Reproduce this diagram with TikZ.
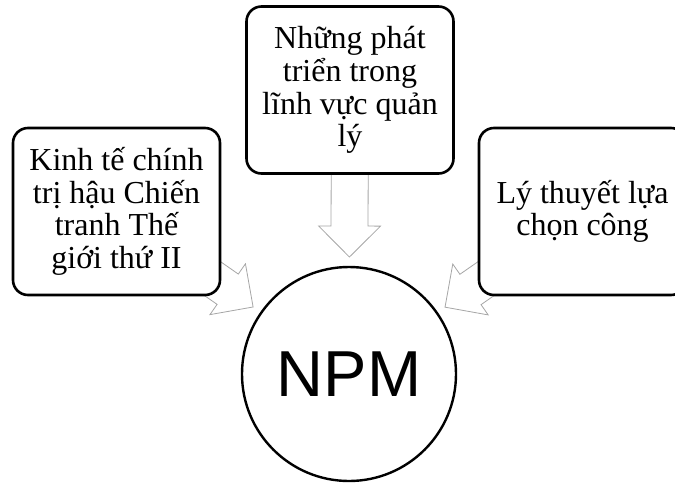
\documentclass[tikz,border=0pt]{standalone}
\usepackage{fontspec}
\setmainfont{Liberation Serif}
\newfontfamily\npmfont{Liberation Sans}
\usepackage{tikz}
\usetikzlibrary{calc,backgrounds}
\definecolor{arrowgray}{HTML}{A6A6A6}

% block arrow from the centre of #1 towards the circle #2
\newcommand{\radarrow}[2]{%
  \coordinate (tip) at ($(#2.center)!117pt!(#1.center)$);
  \coordinate (neck) at ($(tip)!31pt!(#1.center)$);
  \draw[blockarr] ($(#1.center)!18.5pt!90:(tip)$) -- ($(neck)!18.5pt!90:(tip)$)
    -- ($(neck)!31pt!90:(tip)$) -- (tip) -- ($(neck)!31pt!-90:(tip)$)
    -- ($(neck)!18.5pt!-90:(tip)$) -- ($(#1.center)!18.5pt!-90:(tip)$) -- cycle;
}

\begin{document}
\begin{tikzpicture}[
  x=1pt,y=-1pt,
  cause/.style={draw=black,line width=2.6pt,fill=white,rounded corners=15pt,minimum width=207pt,minimum height=167pt,inner sep=0pt,align=center,font=\fontsize{32pt}{32.7pt}\selectfont},
  core/.style={draw=black,line width=2.4pt,fill=white,circle,minimum size=214pt,inner sep=0pt,font=\npmfont\fontsize{65pt}{70pt}\selectfont},
  blockarr/.style={draw=arrowgray,line width=0.8pt,fill=white,line join=miter}
]
  \useasboundingbox (0,0) rectangle (675,483);
  \node[cause] (mgmt) at (350,90) {Những phát\\triển trong\\lĩnh vực quản\\lý};
  \node[cause] (postwar) at (116.5,211.5) {Kinh tế chính\\trị hậu Chiến\\tranh Thế\\giới thứ II};
  \node[cause] (choice) at (582.5,211.5) {Lý thuyết lựa\\chọn công};
  \node[core] (npm) at (349,374) {NPM};
  \begin{scope}[on background layer]
    \radarrow{mgmt}{npm}
    \radarrow{postwar}{npm}
    \radarrow{choice}{npm}
  \end{scope}
\end{tikzpicture}
\end{document}
